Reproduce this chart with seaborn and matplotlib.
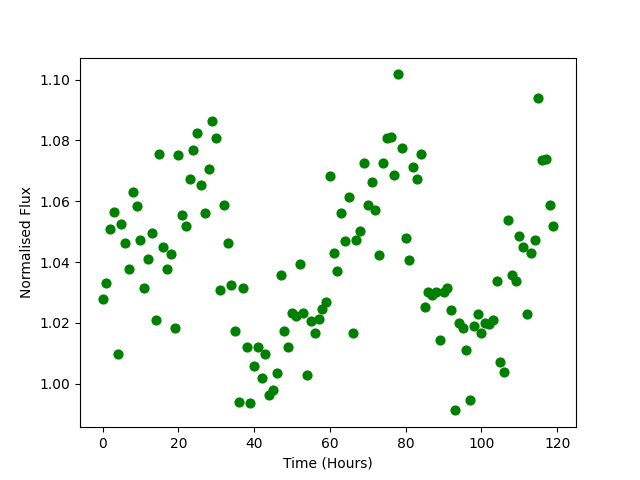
import matplotlib
matplotlib.use("Agg")
import matplotlib.pyplot as plt
import seaborn as sns
import pandas as pd

hours = list(range(120))
flux = [
    1.0277, 1.0330, 1.0507, 1.0563, 1.0096, 1.0524, 1.0461, 1.0376, 1.0629, 1.0583,
    1.0474, 1.0316, 1.0409, 1.0497, 1.0208, 1.0754, 1.0448, 1.0376, 1.0425, 1.0182,
    1.0751, 1.0553, 1.0520, 1.0672, 1.0767, 1.0823, 1.0652, 1.0560, 1.0705, 1.0863,
    1.0807, 1.0307, 1.0589, 1.0461, 1.0326, 1.0172, 0.9938, 1.0313, 1.0119, 0.9935,
    1.0057, 1.0122, 1.0020, 1.0099, 0.9964, 0.9978, 1.0034, 1.0356, 1.0172, 1.0122,
    1.0231, 1.0224, 1.0392, 1.0231, 1.0030, 1.0205, 1.0168, 1.0211, 1.0247, 1.0267,
    1.0682, 1.0428, 1.0369, 1.0560, 1.0468, 1.0613, 1.0168, 1.0471, 1.0501, 1.0724,
    1.0589, 1.0662, 1.0570, 1.0422, 1.0724, 1.0807, 1.0810, 1.0685, 1.1017, 1.0774,
    1.0478, 1.0405, 1.0711, 1.0672, 1.0756, 1.0251, 1.0300, 1.0293, 1.0300, 1.0142,
    1.0300, 1.0316, 1.0241, 0.9912, 1.0201, 1.0182, 1.0109, 0.9945, 1.0191, 1.0228,
    1.0165, 1.0198, 1.0195, 1.0208, 1.0336, 1.0070, 1.0037, 1.0537, 1.0356, 1.0336,
    1.0484, 1.0448, 1.0228, 1.0428, 1.0471, 1.0941, 1.0735, 1.0738, 1.0589, 1.0520,
]

df = pd.DataFrame({"Time (Hours)": hours, "Normalised Flux": flux})

fig, ax = plt.subplots(figsize=(6.4, 4.8), dpi=100)
sns.scatterplot(data=df, x="Time (Hours)", y="Normalised Flux", color="green",
                s=40, edgecolor="green", linewidth=1, ax=ax)
ax.set_xlabel("Time (Hours)")
ax.set_ylabel("Normalised Flux")
fig.savefig("out.png", dpi=100)
